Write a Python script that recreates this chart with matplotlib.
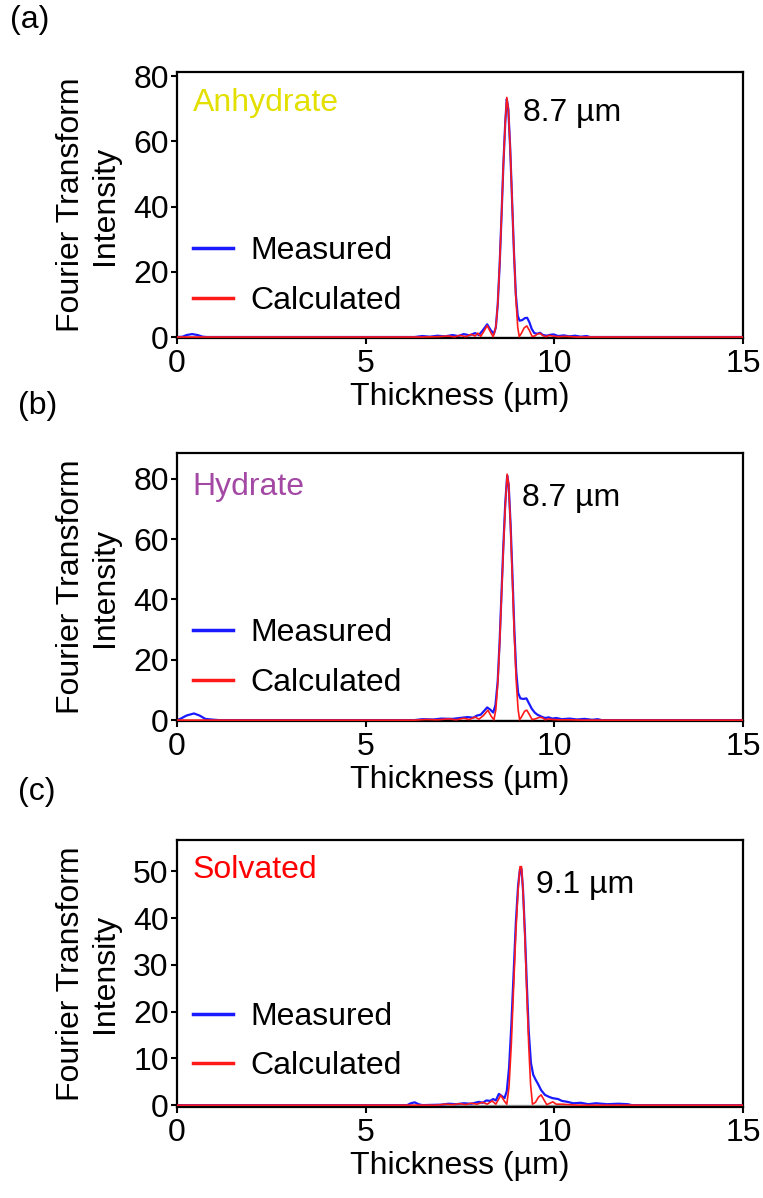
import numpy as np
import matplotlib
matplotlib.use("Agg")
import matplotlib.pyplot as plt

plt.rcParams['font.family'] = ['Liberation Sans', 'DejaVu Sans']
plt.rcParams['font.size'] = 23

# ---- data ----
# panel (a) anhydrate
meas_a_x = [0.0, 0.15, 0.25, 0.4, 0.55, 0.68, 0.8, 6.3, 6.5, 6.7, 6.9, 7.1, 7.3, 7.45, 7.6, 7.75, 7.9, 8.0,
            8.1, 8.22, 8.32, 8.4, 8.45, 8.5, 8.55, 8.6, 8.65, 8.7, 8.74, 8.78, 8.83, 8.88, 8.93, 8.98, 9.03,
            9.08, 9.15, 9.22, 9.28, 9.34, 9.4, 9.47, 9.55, 9.62, 9.7, 9.8, 9.9, 9.98, 10.1, 10.25, 10.4,
            10.55, 10.7, 10.85, 10.95, 15.0]
meas_a_y = [0, 0.1, 0.6, 0.9, 0.6, 0.1, 0, 0, 0.3, 0.1, 0.4, 0.2, 0.6, 0.3, 0.9, 0.5, 1.2, 0.6,
            2.0, 3.9, 2.0, 1.0, 3, 10, 22, 37, 53, 66, 73, 70, 58, 42, 26, 13, 6.5,
            5, 5.2, 5.8, 5.9, 4.5, 2.5, 1.2, 1.0, 1.3, 0.6, 0.4, 0.7, 0.8, 0.3, 0.5, 0.2,
            0.4, 0.1, 0.3, 0, 0]
calc_a_x = [0.0, 6.5, 6.9, 7.2, 7.35, 7.5, 7.65, 7.8, 7.9, 7.97, 8.05, 8.12, 8.22, 8.31, 8.38, 8.45, 8.5,
            8.55, 8.6, 8.65, 8.7, 8.74, 8.78, 8.83, 8.88, 8.93, 8.98, 9.03, 9.07, 9.13, 9.2, 9.27, 9.34,
            9.41, 9.48, 9.55, 9.63, 9.7, 9.78, 9.86, 9.95, 10.1, 10.3, 10.6, 15.0]
calc_a_y = [0, 0, 0.1, 0.3, 0.05, 0.5, 0.1, 0.8, 0.3, 1.2, 0.2, 1.5, 3.5, 1.5, 0.1, 3, 10,
            22, 37, 53, 66, 73.5, 70, 58, 42, 26, 12, 3, 0.1, 1.2, 2.8, 3.4, 2.0,
            0.2, 0.3, 0.9, 1.1, 0.4, 0.1, 0.5, 0.3, 0.1, 0.2, 0, 0]

# panel (b) hydrate
meas_b_x = [0.0, 0.1, 0.25, 0.45, 0.6, 0.75, 0.9, 1.1, 6.3, 6.5, 6.8, 7.0, 7.3, 7.5, 7.7, 7.85, 7.95,
            8.05, 8.15, 8.22, 8.3, 8.38, 8.44, 8.5, 8.55, 8.6, 8.65, 8.7, 8.75, 8.79, 8.84, 8.89, 8.94,
            8.99, 9.04, 9.1, 9.18, 9.26, 9.33, 9.4, 9.48, 9.55, 9.65, 9.75, 9.85, 9.95, 10.05, 10.2,
            10.4, 10.6, 10.8, 11.0, 11.15, 11.25, 15.0]
meas_b_y = [0, 0.5, 1.5, 2.2, 1.5, 0.4, 0.2, 0, 0, 0.3, 0.2, 0.5, 0.4, 0.7, 1.0, 0.8, 1.5,
            1.8, 3.2, 4.2, 3.5, 2.5, 5, 13, 26, 42, 58, 72, 81, 78, 65, 48, 30,
            16, 9, 7.2, 7.0, 7.2, 5.5, 3.8, 2.5, 1.8, 1.2, 0.7, 0.9, 0.5, 0.7, 0.3,
            0.5, 0.2, 0.4, 0.1, 0.3, 0, 0]
calc_b_x = [0.0, 6.3, 6.6, 6.9, 7.2, 7.4, 7.6, 7.75, 7.9, 8.0, 8.12, 8.24, 8.33, 8.4, 8.45, 8.5, 8.55,
            8.6, 8.65, 8.7, 8.75, 8.79, 8.84, 8.89, 8.94, 8.99, 9.04, 9.08, 9.14, 9.21, 9.27, 9.34,
            9.41, 9.5, 9.6, 9.68, 9.76, 9.85, 9.95, 10.1, 10.4, 10.7, 15.0]
calc_b_y = [0, 0, 0.2, 0.1, 0.4, 0.1, 0.6, 0.2, 1.0, 0.3, 1.5, 3.3, 1.2, 0.1, 3.5, 12, 25,
            41, 57, 71, 81.5, 78, 64, 46, 28, 13, 3.5, 0.1, 1.3, 2.9, 3.3, 1.8,
            0.2, 0.4, 0.9, 0.8, 0.1, 0.4, 0.2, 0.1, 0.1, 0, 0]

# panel (c) solvated
meas_c_x = [0.0, 6.1, 6.2, 6.3, 6.4, 6.5, 7.0, 7.2, 7.4, 7.6, 7.8, 8.0, 8.1, 8.2, 8.3, 8.38, 8.45, 8.53,
            8.6, 8.68, 8.74, 8.8, 8.86, 8.92, 8.98, 9.04, 9.09, 9.13, 9.17, 9.22, 9.27, 9.32, 9.38,
            9.44, 9.5, 9.57, 9.65, 9.75, 9.85, 9.95, 10.1, 10.2, 10.35, 10.5, 10.7, 10.9, 11.1, 11.4,
            11.7, 11.95, 12.05, 15.0]
meas_c_y = [0, 0, 0.4, 0.6, 0.2, 0, 0.1, 0.3, 0.2, 0.4, 0.3, 0.7, 0.5, 1.0, 0.9, 1.3, 1.0, 2.4,
            2.0, 1.5, 3, 8, 17, 28, 39, 47, 50.5, 50.5, 46, 37, 26, 16, 9,
            6.5, 5.5, 4.5, 3.2, 2.2, 1.8, 1.5, 1.3, 0.9, 0.7, 0.4, 0.5, 0.2, 0.4, 0.2,
            0.3, 0.2, 0, 0]
calc_c_x = [0.0, 6.9, 7.1, 7.3, 7.5, 7.65, 7.8, 7.95, 8.1, 8.22, 8.35, 8.45, 8.58, 8.68, 8.74, 8.8, 8.86,
            8.92, 8.98, 9.04, 9.09, 9.13, 9.17, 9.22, 9.27, 9.32, 9.37, 9.42, 9.5, 9.58, 9.65, 9.72,
            9.8, 9.88, 9.96, 10.05, 10.2, 10.4, 10.6, 15.0]
calc_c_y = [0, 0, 0.2, 0.1, 0.3, 0.1, 0.4, 0.2, 0.6, 0.2, 0.9, 0.2, 2.1, 0.8, 0.2, 4, 13,
            25, 37, 46, 51, 51, 46, 36, 24, 13, 4.5, 0.2, 0.6, 1.7, 2.2, 1.2,
            0.1, 0.4, 0.7, 0.2, 0.2, 0.1, 0, 0]

panel_tags = ['(a)', '(b)', '(c)']
sample_names = ['Anhydrate', 'Hydrate', 'Solvated']
sample_colors = ['#e3e000', '#a349a4', '#ff0000']
peak_labels = ['8.7 µm', '8.7 µm', '9.1 µm']
y_ticks = [[0, 20, 40, 60, 80], [0, 20, 40, 60, 80], [0, 10, 20, 30, 40, 50]]
y_lims = [(-0.3, 81.3), (-0.3, 88.5), (-0.4, 56.7)]
x_ticks = [0, 5, 10, 15]

measured = [(meas_a_x, meas_a_y), (meas_b_x, meas_b_y), (meas_c_x, meas_c_y)]
calculated = [(calc_a_x, calc_a_y), (calc_b_x, calc_b_y), (calc_c_x, calc_c_y)]

# layout (pixels of the 763x1198 picture)
W, H = 763, 1198
ax_left, ax_right = 177, 743
ax_rows = [(72, 338), (453, 721), (840, 1107)]
tag_pos = [(10, 20), (18, 406), (18, 792)]
name_y = [0.883, 0.873, 0.888]
peak_pos = [(0.611, 0.846), (0.609, 0.832), (0.634, 0.831)]
legend_y = [0.233, 0.235, 0.245]

fig = plt.figure(figsize=(W / 100, H / 100), dpi=100)

for k in range(3):
    top, bot = ax_rows[k]
    ax = fig.add_axes([ax_left / W, 1 - bot / H, (ax_right - ax_left) / W, (bot - top) / H])

    ax.axhline(0, color='#999999', lw=1.0, zorder=1)
    mx, my = measured[k]
    cx, cy = calculated[k]
    ax.plot(mx, my, color='#1a1aff', lw=1.6, label='Measured', zorder=2)
    ax.plot(cx, cy, color='#ff1a1a', lw=1.2, label='Calculated', zorder=3)

    ax.set_xlim(0, 15)
    ax.set_ylim(*y_lims[k])
    ax.set_xticks(x_ticks)
    ax.set_yticks(y_ticks[k])
    for s in ax.spines.values():
        s.set_linewidth(1.6)
    ax.tick_params(direction='out', length=4, width=1.5)
    ax.tick_params(axis='y', pad=2)
    ax.tick_params(axis='x', pad=4)

    ax.set_xlabel('Thickness (µm)', labelpad=2)
    ax.text(-0.158, 0.5, 'Fourier Transform\nIntensity', transform=ax.transAxes,
            rotation=90, ha='center', va='center', rotation_mode='anchor',
            multialignment='center', linespacing=1.17)

    ax.text(0.028, name_y[k], sample_names[k], transform=ax.transAxes,
            color=sample_colors[k], ha='left', va='center')
    ax.text(peak_pos[k][0], peak_pos[k][1], peak_labels[k], transform=ax.transAxes,
            ha='left', va='center')

    leg = ax.legend(loc='center left', bbox_to_anchor=(0.028, legend_y[k]), frameon=False,
                    borderaxespad=0, borderpad=0, handlelength=1.25, handletextpad=0.55,
                    labelspacing=0.62)
    for ln in leg.get_lines():
        ln.set_linewidth(2.5)

    fig.text(tag_pos[k][0] / W, 1 - tag_pos[k][1] / H, panel_tags[k], ha='left', va='center')

fig.savefig('out.png', dpi=100)
